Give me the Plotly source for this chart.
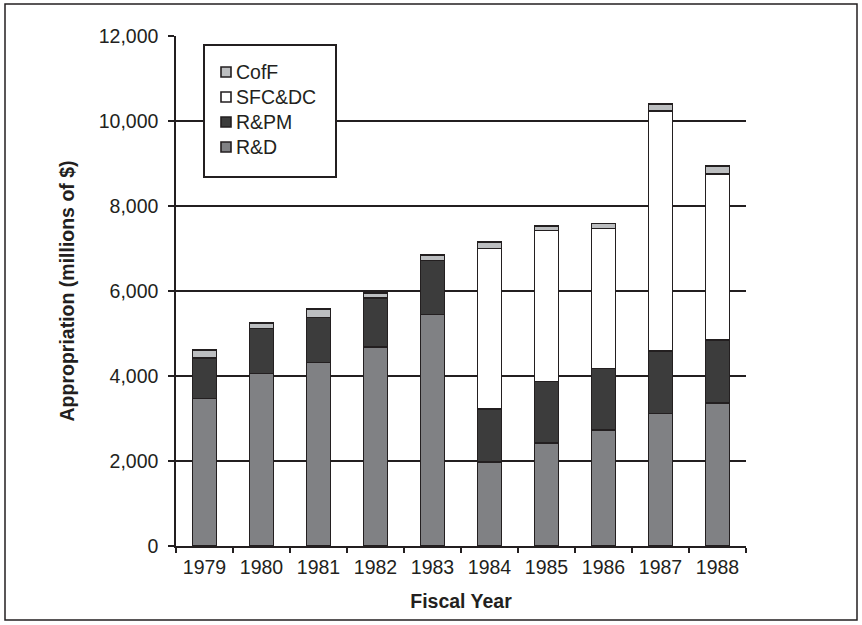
import plotly.graph_objects as go

# ---- data (millions of $) ----
years = ["1979", "1980", "1981", "1982", "1983", "1984", "1985", "1986", "1987", "1988"]
series_names = ["R&D", "R&PM", "SFC&DC", "CofF"]
rd = [3470, 4060, 4320, 4680, 5450, 1970, 2420, 2730, 3120, 3370]
rpm = [960, 1060, 1060, 1160, 1270, 1260, 1450, 1450, 1470, 1480]
sfcdc = [0, 0, 0, 0, 0, 3770, 3550, 3290, 5650, 3900]
coff = [180, 130, 200, 110, 130, 150, 110, 120, 160, 190]
y_ticks = [0, 2000, 4000, 6000, 8000, 10000, 12000]

colors = ["#808184", "#3c3c3c", "#ffffff", "#bcbec0"]
ink = "#231f20"
font_family = "Liberation Sans, Arial, sans-serif"

W, H = 862, 625
L, R, T, B = 176, 746, 36, 546  # plot area in pixels


def px_x(p):
    return (p - L) / (R - L)


def px_y(p):
    return (B - p) / (B - T)


fig = go.Figure()
for name, vals, col in zip(series_names, [rd, rpm, sfcdc, coff], colors):
    fig.add_trace(go.Bar(
        x=years, y=vals, name=name,
        marker=dict(color=col, line=dict(color=ink, width=1.6)),
        showlegend=False,
    ))

# ---- manual legend box ----
shapes = [
    dict(type="rect", xref="paper", yref="paper",
         x0=px_x(204), x1=px_x(336), y0=px_y(177), y1=px_y(45),
         fillcolor="white", line=dict(color=ink, width=2), layer="above"),
    # outer border of the whole figure
    dict(type="rect", xref="paper", yref="paper",
         x0=px_x(5), x1=px_x(857), y0=px_y(620), y1=px_y(4),
         line=dict(color=ink, width=1.5), layer="below"),
]
annotations = []
legend_order = list(reversed(list(zip(series_names, colors))))
for i, (name, col) in enumerate(legend_order):
    cy = 72 + 25 * i
    shapes.append(dict(type="rect", xref="paper", yref="paper",
                       x0=px_x(221), x1=px_x(231), y0=px_y(cy + 5), y1=px_y(cy - 5),
                       fillcolor=col, line=dict(color=ink, width=1.6), layer="above"))
    annotations.append(dict(xref="paper", yref="paper", x=px_x(234), y=px_y(cy),
                            xanchor="left", yanchor="middle", text=name, showarrow=False,
                            font=dict(size=19.5, color=ink, family=font_family)))

fig.update_layout(
    width=W, height=H,
    margin=dict(l=L, r=W - R, t=T, b=H - B, pad=0),
    paper_bgcolor="white", plot_bgcolor="white",
    barmode="stack", bargap=0.58,
    font=dict(family=font_family, color=ink, size=19.5),
    shapes=shapes, annotations=annotations,
    xaxis=dict(
        type="category", tickson="boundaries", ticks="outside", ticklen=5,
        tickwidth=1.5, tickcolor=ink, showline=True, linecolor=ink, linewidth=1.5,
        showgrid=False, tickfont=dict(size=19.5), ticklabelstandoff=3,
        title=dict(text="<b>Fiscal Year</b>", font=dict(size=19.5), standoff=17),
    ),
    yaxis=dict(
        range=[0, 12000], tickvals=y_ticks, tickformat=",", ticks="outside",
        ticklen=6, tickwidth=1.5, tickcolor=ink, showline=True, linecolor=ink,
        linewidth=1.5, showgrid=True, gridcolor=ink, gridwidth=1.5, zeroline=False,
        tickfont=dict(size=19.5), ticklabelstandoff=6,
        title=dict(text="<b>Appropriation (millions of $)</b>", font=dict(size=19.5), standoff=19),
    ),
)

fig.write_html("out.html", config={"displayModeBar": False},
               post_script="document.body.style.margin='0px';")
